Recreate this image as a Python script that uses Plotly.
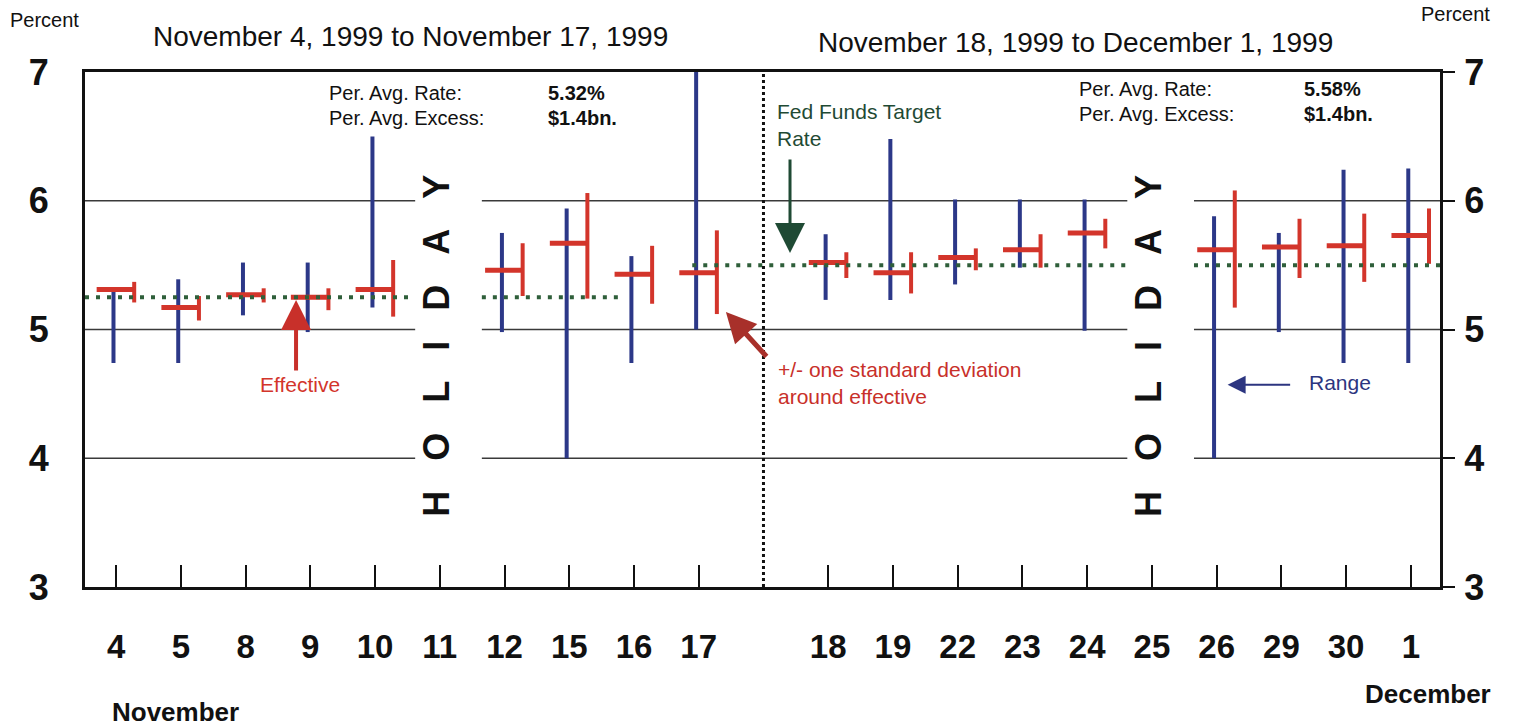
import plotly.graph_objects as go

# ---------------- data (21 slots; slot 10 is the gap between the two periods) ----------------
day_labels = ["4", "5", "8", "9", "10", "11", "12", "15", "16", "17", "",
              "18", "19", "22", "23", "24", "25", "26", "29", "30", "1"]
holiday_slots = [5, 16]
gap_slot = 10

range_high = [5.33, 5.39, 5.52, 5.52, 6.50, None, 5.75, 5.94, 5.57, 7.00, None,
              5.74, 6.48, 6.01, 6.01, 6.01, None, 5.88, 5.75, 6.24, 6.25]
range_low = [4.74, 4.74, 5.11, 4.98, 5.17, None, 4.98, 4.00, 4.74, 5.00, None,
             5.23, 5.23, 5.35, 5.48, 4.99, None, 4.00, 4.98, 4.74, 4.74]
effective = [5.31, 5.17, 5.27, 5.25, 5.31, None, 5.46, 5.67, 5.43, 5.44, None,
             5.52, 5.44, 5.56, 5.62, 5.75, None, 5.62, 5.64, 5.65, 5.73]
sd_high = [5.37, 5.26, 5.32, 5.32, 5.54, None, 5.67, 6.06, 5.65, 5.77, None,
           5.60, 5.60, 5.63, 5.74, 5.86, None, 6.08, 5.86, 5.90, 5.94]
sd_low = [5.21, 5.07, 5.21, 5.15, 5.10, None, 5.26, 5.24, 5.20, 5.12, None,
          5.40, 5.28, 5.46, 5.48, 5.63, None, 5.17, 5.40, 5.37, 5.51]
target = [5.25, 5.25, 5.25, 5.25, 5.25, None, 5.25, 5.25, 5.25, 5.50, 5.50,
          5.50, 5.50, 5.50, 5.50, 5.50, None, 5.50, 5.50, 5.50, 5.50]

period_titles = ["November 4, 1999 to November 17, 1999",
                 "November 18, 1999 to December 1, 1999"]
period_avg_rate = ["5.32%", "5.58%"]
period_avg_excess = ["$1.4bn.", "$1.4bn."]
y_ticks = [3, 4, 5, 6, 7]

# ---------------- styles ----------------
BLUE = "#2c3888"
RED = "#d3352b"
GREEN = "#2f5f3a"
DKGREEN = "#1f4a34"
NAVY = "#2c3580"
FONT = "Liberation Sans, Arial, sans-serif"
NARROW = "Liberation Sans Narrow, Liberation Sans, Arial, sans-serif"
XMIN, XMAX = -0.48, 20.45
H_LEFT, H_RIGHT = 0.30, 0.28

fig = go.Figure()

# range bars (blue)
bx, by = [], []
for i, (lo, hi) in enumerate(zip(range_low, range_high)):
    if lo is None:
        continue
    bx += [i - 0.04, i - 0.04, None]
    by += [lo, hi, None]

# effective (red horizontal) and +/- one sd (red vertical)
ex, ey, sx, sy = [], [], [], []
for i, (e, lo, hi) in enumerate(zip(effective, sd_low, sd_high)):
    if e is None:
        continue
    ex += [i - H_LEFT, i + H_RIGHT, None]
    ey += [e, e, None]
    sx += [i + H_RIGHT, i + H_RIGHT, None]
    sy += [lo, hi, None]

fig.add_trace(go.Scatter(x=bx, y=by, mode="lines", line=dict(color=BLUE, width=4),
                         hoverinfo="skip", showlegend=False))
fig.add_trace(go.Scatter(x=ex, y=ey, mode="lines", line=dict(color=RED, width=5),
                         hoverinfo="skip", showlegend=False))
fig.add_trace(go.Scatter(x=sx, y=sy, mode="lines", line=dict(color=RED, width=4),
                         hoverinfo="skip", showlegend=False))

# target rate (green dotted), drawn as runs of equal value
tx, ty = [], []
runs = []
start = None
for i, t in enumerate(target + [None]):
    if start is not None and (t is None or t != target[start]):
        runs.append((start, i - 1, target[start], t is not None))
        start = None
    if t is not None and start is None:
        start = i
prev_step = False
for k, (a, b, v, step_after) in enumerate(runs):
    x0 = XMIN if a == 0 else (a - 0.1 if prev_step else a - 0.35)
    x1 = XMAX if b == len(target) - 1 else (b - 0.2 if step_after else b + 0.6)
    tx += [x0, x1, None]
    ty += [v, v, None]
    prev_step = step_after
fig.add_trace(go.Scatter(x=tx, y=ty, mode="lines",
                         line=dict(color=GREEN, width=4, dash="4px,7px"),
                         hoverinfo="skip", showlegend=False))

# invisible trace for right axis
fig.add_trace(go.Scatter(x=[0], y=[5], yaxis="y2", mode="markers",
                         marker=dict(opacity=0), hoverinfo="skip", showlegend=False))

# gridlines interrupted at holidays
shapes = []
for gy in [4, 5, 6]:
    edges = [XMIN]
    for h in holiday_slots:
        edges += [h - 0.38, h + 0.65]
    edges.append(XMAX)
    for j in range(0, len(edges), 2):
        shapes.append(dict(type="line", xref="x", yref="y", x0=edges[j], x1=edges[j + 1],
                           y0=gy, y1=gy, line=dict(color="#3a3a3a", width=1.5), layer="below"))
# divider between the two periods
shapes.append(dict(type="line", xref="x", yref="y", x0=gap_slot, x1=gap_slot, y0=3, y1=7,
                   line=dict(color="#111111", width=3, dash="3px,3px")))

annotations = []
# titles
def paper_text(x, y, text, size, bold=False):
    return dict(xref="paper", yref="paper", x=x, y=y, xanchor="center", yanchor="middle",
                text=("<b>%s</b>" % text) if bold else text, showarrow=False,
                font=dict(size=size, color="#111", family=FONT))

annotations.append(paper_text(0.24, 1.068, period_titles[0], 28))
annotations.append(paper_text(0.731, 1.058, period_titles[1], 28))
annotations.append(paper_text(-0.030, 1.101, "Percent", 20))
annotations.append(paper_text(1.0118, 1.113, "Percent", 20))
annotations.append(paper_text(0.067, -0.243, "November", 26, bold=True))
annotations.append(paper_text(0.991, -0.208, "December", 26, bold=True))

# period averages
for (lx, vx, y1, y2, k) in [(3.26, 6.64, 6.837, 6.643, 0), (14.84, 18.32, 6.868, 6.674, 1)]:
    annotations.append(dict(x=lx, y=y1, xanchor="left", text="Per. Avg. Rate:", showarrow=False,
                            font=dict(size=20, color="#111", family=FONT)))
    annotations.append(dict(x=lx, y=y2, xanchor="left", text="Per. Avg. Excess:", showarrow=False,
                            font=dict(size=20, color="#111", family=FONT)))
    annotations.append(dict(x=vx, y=y1, xanchor="left", text="<b>%s</b>" % period_avg_rate[k],
                            showarrow=False, font=dict(size=20, color="#111", family=FONT)))
    annotations.append(dict(x=vx, y=y2, xanchor="left", text="<b>%s</b>" % period_avg_excess[k],
                            showarrow=False, font=dict(size=20, color="#111", family=FONT)))

# HOLIDAY labels
sp = "\u00a0\u00a0\u00a0"
hol_text = "<b>" + sp.join(list("HOLIDAY")) + "</b>"
for h in holiday_slots:
    annotations.append(dict(x=h - 0.05, y=4.87, text=hol_text, textangle=-90, showarrow=False,
                            font=dict(size=36, color="#111", family=FONT)))

# explanatory notes + arrows
annotations.append(dict(x=10.18, y=6.59, xanchor="left", align="left",
                        text="Fed Funds Target<br>Rate", showarrow=False,
                        font=dict(size=21, color=DKGREEN, family=FONT)))
annotations.append(dict(x=10.41, y=5.594, ax=0, ay=-95, text="", showarrow=True,
                        arrowhead=2, arrowsize=2, arrowwidth=3, arrowcolor=DKGREEN))
annotations.append(dict(x=2.84, y=4.57, text="Effective", showarrow=False,
                        font=dict(size=21, color=RED, family=FONT)))
annotations.append(dict(x=2.78, y=5.23, ax=0, ay=72, text="", showarrow=True,
                        arrowhead=2, arrowsize=1.5, arrowwidth=4, arrowcolor="#c8302a"))
annotations.append(dict(x=10.19, y=4.585, xanchor="left", align="left",
                        text="+/- one standard deviation<br>around effective", showarrow=False,
                        font=dict(size=21, color="#c8302a", family=FONT)))
annotations.append(dict(x=9.42, y=5.136, ax=42, ay=46, text="", showarrow=True,
                        arrowhead=2, arrowsize=1.2, arrowwidth=5, arrowcolor="#a8302a"))
annotations.append(dict(x=18.39, y=4.585, xanchor="left", text="Range", showarrow=False,
                        font=dict(size=21, color=NAVY, family=FONT)))
annotations.append(dict(x=17.17, y=4.57, ax=64, ay=0, text="", showarrow=True,
                        arrowhead=2, arrowsize=1.8, arrowwidth=2, arrowcolor=NAVY))

tickvals = [i for i, d in enumerate(day_labels) if d]
ticktext = [d for d in day_labels if d]

fig.update_layout(
    width=1516, height=728,
    margin=dict(l=85, r=76, t=72, b=141),
    paper_bgcolor="white", plot_bgcolor="white",
    font=dict(family=FONT, color="#111"),
    showlegend=False,
    shapes=shapes, annotations=annotations,
    xaxis=dict(range=[XMIN, XMAX], tickvals=tickvals, ticktext=ticktext,
               ticks="inside", ticklen=22, tickwidth=2, tickcolor="#111",
               showline=True, linecolor="#111", linewidth=3, mirror=True,
               showgrid=False, zeroline=False, ticklabelstandoff=28,
               tickfont=dict(size=33, family=NARROW, color="#111", weight="bold")),
    yaxis=dict(range=[3, 7], tickvals=y_ticks, ticks="", showline=True, linecolor="#111",
               linewidth=3, mirror=True, showgrid=False, zeroline=False,
               ticklabelstandoff=26,
               tickfont=dict(size=36, family=NARROW, color="#111", weight="bold")),
    yaxis2=dict(range=[3, 7], tickvals=y_ticks, overlaying="y", side="right",
                ticks="outside", ticklen=12, tickwidth=2, tickcolor="#111",
                showline=True, linecolor="#111", linewidth=3, showgrid=False,
                zeroline=False, ticklabelstandoff=2,
                tickfont=dict(size=36, family=NARROW, color="#111", weight="bold")),
)

fig.write_html("out.html", config={"displayModeBar": False},
               post_script="document.body.style.margin='0';")
